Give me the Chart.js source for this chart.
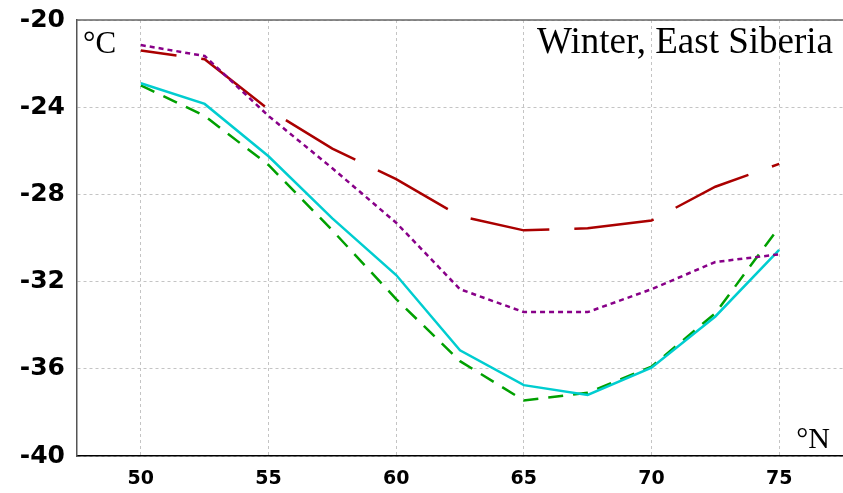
<!DOCTYPE html>
<html>
<head>
<meta charset="utf-8">
<script src="https://cdn.jsdelivr.net/npm/chart.js@4.4.1/dist/chart.umd.min.js"></script>
<style>
    html, body { margin: 0; padding: 0; background: #fff; }
    #wrap { width: 843px; height: 493px; position: relative; }
</style>
</head>
<body>
<div id="wrap"><canvas id="mainChart"></canvas></div>
<script>
// Latitude (°N) of each sample
const latitudes = [50, 52.5, 55, 57.5, 60, 62.5, 65, 67.5, 70, 72.5, 75];

// Winter temperature (°C) along latitude, one array per curve
const redSeries    = [-21.4, -21.8, -24.1, -25.9, -27.3, -29.0, -29.65, -29.55, -29.2, -27.65, -26.6];
const purpleSeries = [-21.15, -21.65, -24.4, -26.8, -29.3, -32.35, -33.4, -33.4, -32.35, -31.1, -30.75];
const greenSeries  = [-23.0, -24.4, -26.65, -29.65, -32.8, -35.65, -37.45, -37.1, -35.9, -33.45, -29.5];
const cyanSeries   = [-22.9, -23.85, -26.25, -29.1, -31.7, -35.15, -36.75, -37.2, -35.95, -33.6, -30.55];

// Tick labels
const xTicks = [50, 55, 60, 65, 70, 75];
const yTicks = [-40, -36, -32, -28, -24, -20];

const toPoints = (values) => values.map((v, i) => ({ x: latitudes[i], y: v }));

const gridStyle = { color: '#c4c4c4', lineWidth: 1, drawTicks: false };

// Labels drawn inside the plot area, plus the top frame line
const annotations = {
    id: 'annotations',
    afterDraw(chart) {
        const { ctx, chartArea } = chart;
        ctx.save();
        ctx.strokeStyle = '#666';
        ctx.lineWidth = 1.5;
        ctx.beginPath();
        ctx.moveTo(chartArea.left, chartArea.top);
        ctx.lineTo(chartArea.right, chartArea.top);
        ctx.stroke();

        ctx.fillStyle = '#000';
        ctx.textBaseline = 'alphabetic';

        ctx.font = '31px "Liberation Serif"';
        ctx.textAlign = 'left';
        ctx.fillText('°C', chartArea.left + 6, chartArea.top + 33);

        ctx.font = '37px "Liberation Serif"';
        ctx.textAlign = 'right';
        ctx.fillText('Winter, East Siberia', chartArea.right - 10, chartArea.top + 33);

        ctx.font = '30px "Liberation Serif"';
        ctx.textAlign = 'right';
        ctx.fillText('°N', chartArea.right - 13, chartArea.bottom - 8);
        ctx.restore();
    }
};

const line = (data, color, dash, extra = {}) => Object.assign({
    data: toPoints(data),
    borderColor: color,
    backgroundColor: color,
    borderWidth: 2.5,
    borderDash: dash,
    pointRadius: 0,
    tension: 0,
    fill: false
}, extra);

new Chart(document.getElementById('mainChart').getContext('2d'), {
    type: 'line',
    data: {
        datasets: [
            line(purpleSeries, '#880088', [5, 4]),
            line(redSeries, '#aa0000', [80, 25], { borderDashOffset: 44 }),
            line(cyanSeries, '#00cdd0', []),
            line(greenSeries, '#00a000', [15, 10])
        ]
    },
    options: {
        responsive: true,
        maintainAspectRatio: false,
        animation: false,
        layout: { padding: { top: 20, right: 0, bottom: 0, left: 0 } },
        plugins: {
            legend: { display: false },
            tooltip: { enabled: false }
        },
        scales: {
            x: {
                type: 'linear',
                min: 47.5,
                max: 77.5,
                afterBuildTicks: (axis) => { axis.ticks = xTicks.map(v => ({ value: v })); },
                afterFit: (axis) => {
                    axis.height = 37;
                    axis.paddingLeft = 0;
                    axis.paddingRight = 0;
                },
                grid: gridStyle,
                border: { display: true, color: '#000', width: 1.5, dash: [3, 3] },
                ticks: {
                    color: '#000',
                    padding: 12,
                    maxRotation: 0,
                    font: { family: '"DejaVu Sans"', size: 19, weight: 'bold' }
                }
            },
            y: {
                min: -40,
                max: -20,
                afterBuildTicks: (axis) => { axis.ticks = yTicks.map(v => ({ value: v })); },
                afterFit: (axis) => {
                    axis.width = 77;
                    axis.paddingTop = 0;
                    axis.paddingBottom = 0;
                },
                grid: gridStyle,
                border: { display: true, color: '#555', width: 1.5, dash: [3, 3] },
                ticks: {
                    color: '#000',
                    padding: 12,
                    font: { family: '"DejaVu Sans"', size: 25, weight: 'bold' }
                }
            }
        }
    },
    plugins: [annotations]
});
</script>
</body>
</html>
